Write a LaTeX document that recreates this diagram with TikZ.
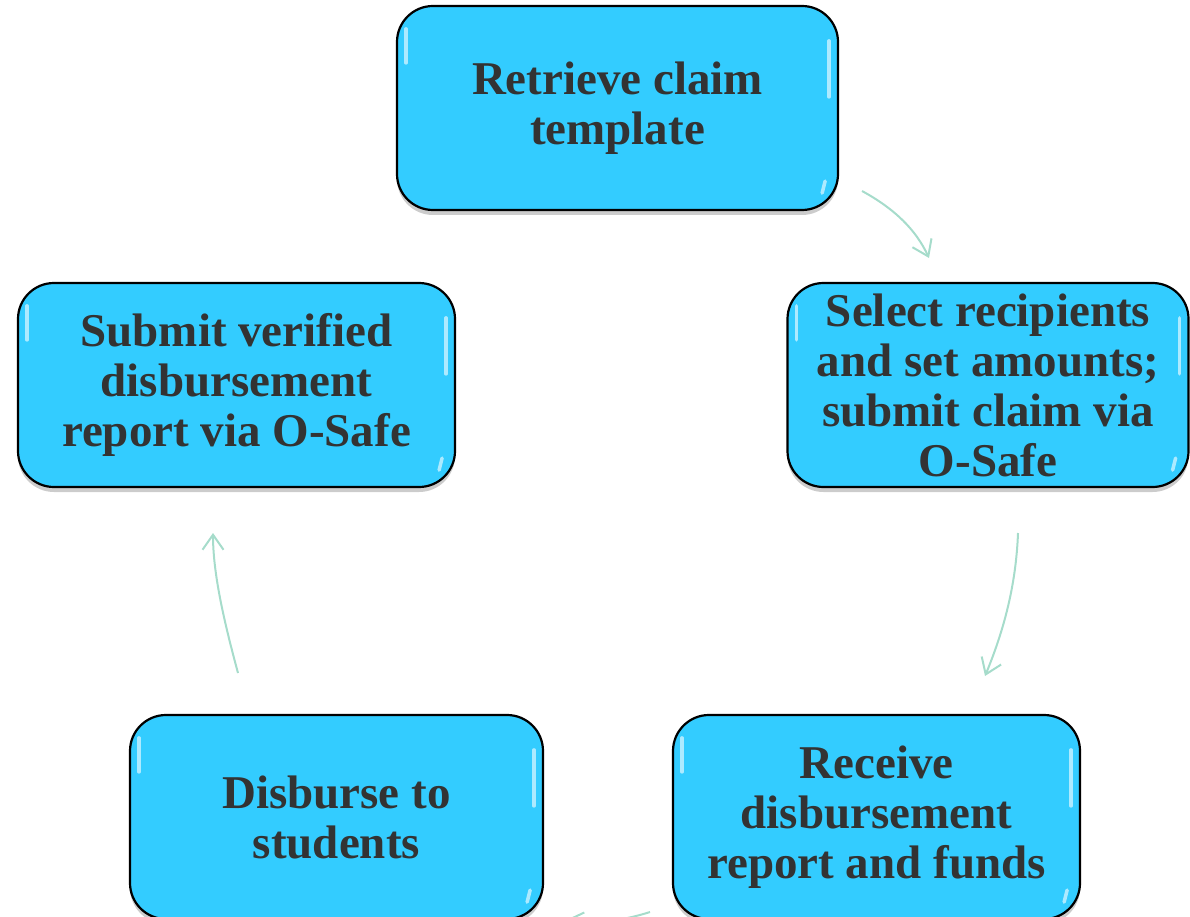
\documentclass[tikz,border=0pt]{standalone}
\usepackage{fontspec}
\setmainfont{Liberation Serif}
\usetikzlibrary{arrows.meta,calc}
\definecolor{boxfill}{HTML}{33CCFF}
\definecolor{txt}{HTML}{333333}
\definecolor{arr}{HTML}{A6DCCB}
\begin{document}
\begin{tikzpicture}[x=1pt,y=-1pt,
  stepbox/.style={draw=black, line width=2.2pt, fill=boxfill, rounded corners=36pt,
    minimum height=204pt, inner sep=0pt, align=center, text=txt,
    font=\fontsize{47}{50}\selectfont\bfseries,
    preaction={fill=black, opacity=0.2, transform canvas={yshift=-5pt}}},
  flow/.style={draw=arr, line width=2pt,
    -{Straight Barb[length=15pt,width=21pt,line width=2pt]}},
  gloss/.style={draw=white, line width=3.5pt, line cap=round, opacity=0.6}]
\useasboundingbox (0,0) rectangle (1190,917);
\clip (0,0) rectangle (1190,917);

\node[stepbox, minimum width=441pt] (retrieve) at (617.5,108) {Retrieve claim\\template};
\node[stepbox, minimum width=401pt] (select) at (988,385) {Select recipients\\and set amounts;\\submit claim via\\O-Safe};
\node[stepbox, minimum width=407pt] (receive) at (876.5,817) {Receive\\disbursement\\report and funds};
\node[stepbox, minimum width=413pt] (disburse) at (336.5,817) {Disburse to\\students};
\node[stepbox, minimum width=437pt] (submit) at (236.5,385) {Submit verified\\disbursement\\report via O-Safe};

\foreach \n in {retrieve,select,receive,disburse,submit}{
  \draw[gloss] ($(\n.north west)+(10,24)$) -- ($(\n.north west)+(10,58)$);
  \draw[gloss] ($(\n.north east)+(-10,36)$) -- ($(\n.north east)+(-10,92)$);
  \draw[gloss] ($(\n.south east)+(-14,-30)$) -- ($(\n.south east)+(-17,-18)$);
}

\coordinate (a1s) at (862,191);
\coordinate (a1e) at (929,258);
\coordinate (a2s) at (1018,533);
\coordinate (a2e) at (985,676);
\coordinate (a3s) at (650,912);
\coordinate (a3e) at (566,920);
\coordinate (a4s) at (238,673);
\coordinate (a4e) at (213,533);

\draw[flow] (a1s) .. controls (895,209) and (916,230) .. (a1e);
\draw[flow] (a2s) .. controls (1016,585) and (1004,630) .. (a2e);
\draw[flow] (a3s) .. controls (625,920) and (595,925) .. (a3e);
\draw[flow] (a4s) .. controls (225,625) and (213,575) .. (a4e);
\end{tikzpicture}
\end{document}
